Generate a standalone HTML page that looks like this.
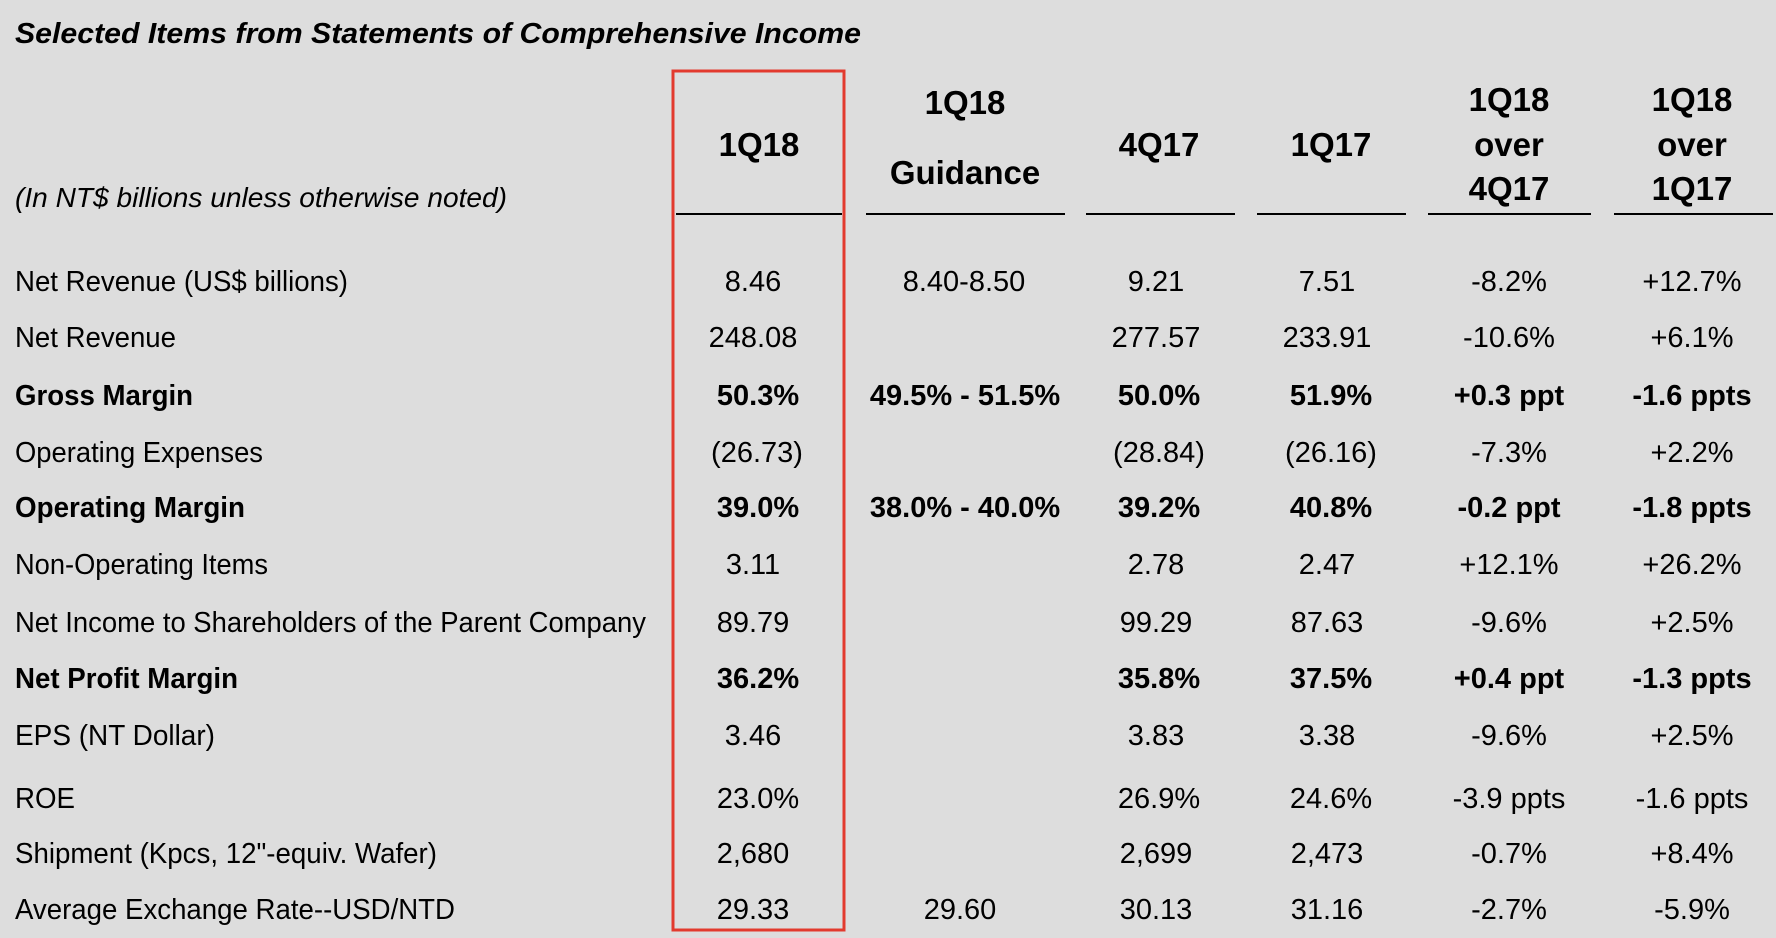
<!DOCTYPE html>
<html><head><meta charset="utf-8"><style>
html,body{margin:0;padding:0;background:#dddddd;}
svg{display:block;font-family:"Liberation Sans",Arial,sans-serif;}
</style></head><body>
<svg width="1776" height="938" viewBox="0 0 1776 938" xmlns="http://www.w3.org/2000/svg">
<rect width="1776" height="938" fill="#dddddd"/>
<text x="15" y="43" font-size="29" font-weight="bold" font-style="italic" textLength="846" lengthAdjust="spacingAndGlyphs">Selected Items from Statements of Comprehensive Income</text>
<text x="15" y="207" font-size="28" font-style="italic" textLength="492" lengthAdjust="spacingAndGlyphs">(In NT$ billions unless otherwise noted)</text>
<g font-size="33" font-weight="bold" text-anchor="middle">
<text x="759" y="156">1Q18</text>
<text x="965" y="114">1Q18</text>
<text x="965" y="184">Guidance</text>
<text x="1159" y="156">4Q17</text>
<text x="1331" y="156">1Q17</text>
<text x="1509" y="111">1Q18</text>
<text x="1509" y="156">over</text>
<text x="1509" y="200">4Q17</text>
<text x="1692" y="111">1Q18</text>
<text x="1692" y="156">over</text>
<text x="1692" y="200">1Q17</text>
</g>
<g stroke="#000" stroke-width="2">
<line x1="676" y1="214" x2="842" y2="214"/>
<line x1="866" y1="214" x2="1065" y2="214"/>
<line x1="1086" y1="214" x2="1235" y2="214"/>
<line x1="1257" y1="214" x2="1406" y2="214"/>
<line x1="1428" y1="214" x2="1591" y2="214"/>
<line x1="1614" y1="214" x2="1773" y2="214"/>
</g>
<rect x="673" y="71" width="171" height="859" fill="none" stroke="#e23a2e" stroke-width="3"/>
<g font-size="29">
<text x="15" y="291" textLength="333" lengthAdjust="spacingAndGlyphs">Net Revenue (US$ billions)</text>
<text x="15" y="347" textLength="161" lengthAdjust="spacingAndGlyphs">Net Revenue</text>
<text x="15" y="405" font-weight="bold" textLength="178" lengthAdjust="spacingAndGlyphs">Gross Margin</text>
<text x="15" y="462" textLength="248" lengthAdjust="spacingAndGlyphs">Operating Expenses</text>
<text x="15" y="517" font-weight="bold" textLength="230" lengthAdjust="spacingAndGlyphs">Operating Margin</text>
<text x="15" y="574" textLength="253" lengthAdjust="spacingAndGlyphs">Non-Operating Items</text>
<text x="15" y="632" textLength="631" lengthAdjust="spacingAndGlyphs">Net Income to Shareholders of the Parent Company</text>
<text x="15" y="688" font-weight="bold" textLength="223" lengthAdjust="spacingAndGlyphs">Net Profit Margin</text>
<text x="15" y="745" textLength="200" lengthAdjust="spacingAndGlyphs">EPS (NT Dollar)</text>
<text x="15" y="808" textLength="60" lengthAdjust="spacingAndGlyphs">ROE</text>
<text x="15" y="863" textLength="422" lengthAdjust="spacingAndGlyphs">Shipment (Kpcs, 12"-equiv. Wafer)</text>
<text x="15" y="919" textLength="440" lengthAdjust="spacingAndGlyphs">Average Exchange Rate--USD/NTD</text>
</g>
<g font-size="29" text-anchor="middle">
<text x="753" y="291">8.46</text><text x="964" y="291">8.40-8.50</text><text x="1156" y="291">9.21</text><text x="1327" y="291">7.51</text><text x="1509" y="291">-8.2%</text><text x="1692" y="291">+12.7%</text>
<text x="753" y="347">248.08</text><text x="1156" y="347">277.57</text><text x="1327" y="347">233.91</text><text x="1509" y="347">-10.6%</text><text x="1692" y="347">+6.1%</text>
<g font-weight="bold"><text x="758" y="405">50.3%</text><text x="965" y="405">49.5% - 51.5%</text><text x="1159" y="405">50.0%</text><text x="1331" y="405">51.9%</text><text x="1509" y="405">+0.3 ppt</text><text x="1692" y="405">-1.6 ppts</text></g>
<text x="757" y="462">(26.73)</text><text x="1159" y="462">(28.84)</text><text x="1331" y="462">(26.16)</text><text x="1509" y="462">-7.3%</text><text x="1692" y="462">+2.2%</text>
<g font-weight="bold"><text x="758" y="517">39.0%</text><text x="965" y="517">38.0% - 40.0%</text><text x="1159" y="517">39.2%</text><text x="1331" y="517">40.8%</text><text x="1509" y="517">-0.2 ppt</text><text x="1692" y="517">-1.8 ppts</text></g>
<text x="753" y="574">3.11</text><text x="1156" y="574">2.78</text><text x="1327" y="574">2.47</text><text x="1509" y="574">+12.1%</text><text x="1692" y="574">+26.2%</text>
<text x="753" y="632">89.79</text><text x="1156" y="632">99.29</text><text x="1327" y="632">87.63</text><text x="1509" y="632">-9.6%</text><text x="1692" y="632">+2.5%</text>
<g font-weight="bold"><text x="758" y="688">36.2%</text><text x="1159" y="688">35.8%</text><text x="1331" y="688">37.5%</text><text x="1509" y="688">+0.4 ppt</text><text x="1692" y="688">-1.3 ppts</text></g>
<text x="753" y="745">3.46</text><text x="1156" y="745">3.83</text><text x="1327" y="745">3.38</text><text x="1509" y="745">-9.6%</text><text x="1692" y="745">+2.5%</text>
<text x="758" y="808">23.0%</text><text x="1159" y="808">26.9%</text><text x="1331" y="808">24.6%</text><text x="1509" y="808">-3.9 ppts</text><text x="1692" y="808">-1.6 ppts</text>
<text x="753" y="863">2,680</text><text x="1156" y="863">2,699</text><text x="1327" y="863">2,473</text><text x="1509" y="863">-0.7%</text><text x="1692" y="863">+8.4%</text>
<text x="753" y="919">29.33</text><text x="960" y="919">29.60</text><text x="1156" y="919">30.13</text><text x="1327" y="919">31.16</text><text x="1509" y="919">-2.7%</text><text x="1692" y="919">-5.9%</text>
</g>
</svg>
</body></html>
